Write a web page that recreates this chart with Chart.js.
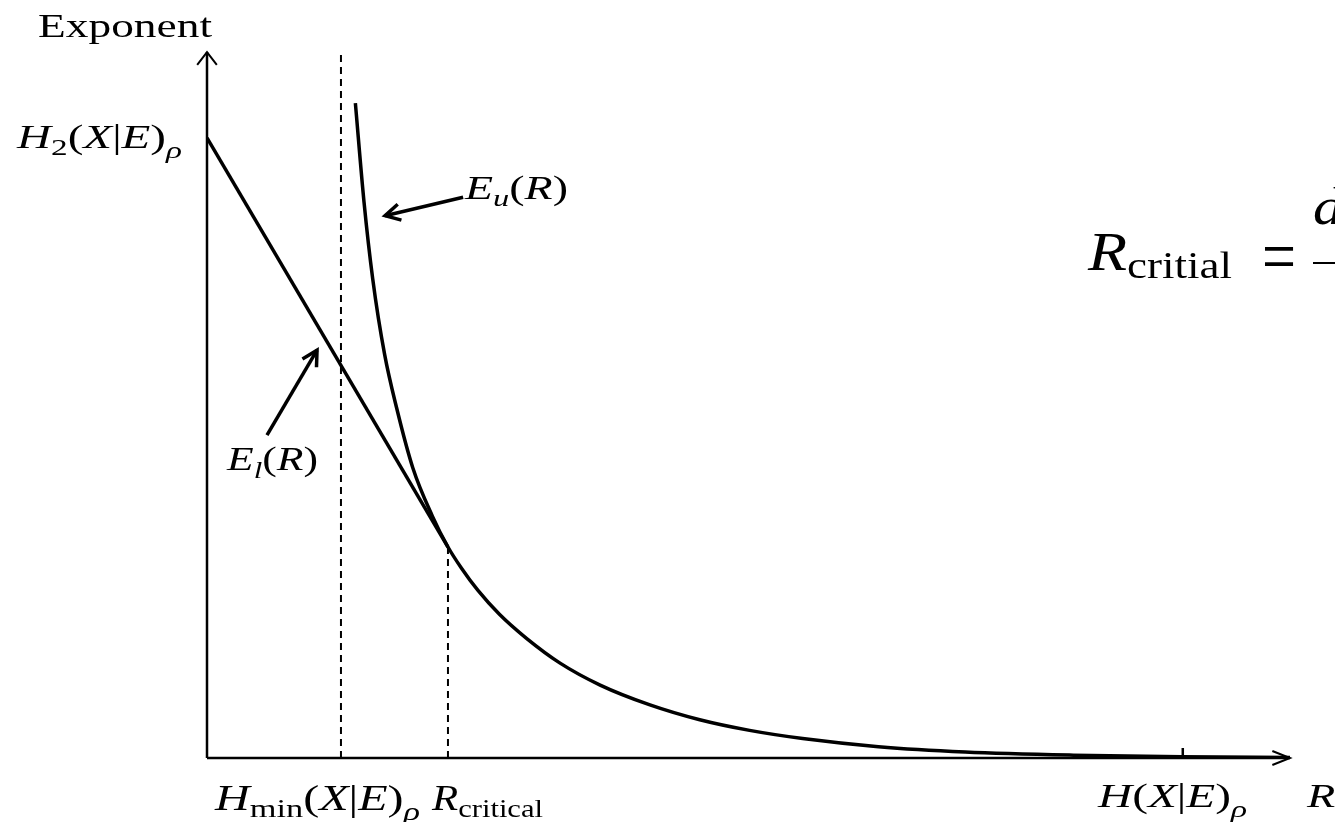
<!DOCTYPE html>
<html>
<head>
<meta charset="utf-8">
<script src="https://cdn.jsdelivr.net/npm/chart.js@4.4.1/dist/chart.umd.min.js"></script>
<style>
  html, body { margin: 0; padding: 0; background: #fff; }
  canvas { display: block; }
</style>
</head>
<body>
<canvas id="expChart" width="1335" height="822"></canvas>
<script>
// dados (unidades arbitrárias: R de 0 a 100, expoente de 0 a 100)
const upperRate = [13.7, 14.5, 15.3, 16.4, 17.5, 19.0, 20.8, 22.25, 23.5, 25.0, 27.0, 29.5, 32.6, 36.3, 40.9, 45.5, 50.1, 55.0, 62.0, 70.0, 80.0, 90.0, 100];
const upperExp  = [92.5, 78.5, 67.7, 57.0, 49.5, 41.0, 34.2, 29.8, 26.8, 23.7, 20.3, 16.9, 13.4, 10.3, 7.5, 5.4, 3.9, 2.75, 1.6, 0.85, 0.4, 0.18, 0.08];
const lowerRate = [0, 22.25];
const lowerExp  = [87.6, 29.8];
const hMinRate = 12.37;   // H_min(X|E)
const rCritical = 22.25;  // R_critical
const hRate = 90.1;       // H(X|E)
const dashTop = 99.3;

const SERIF = '"Liberation Serif", "Times New Roman", serif';

function pts(xs, ys) { return xs.map((x, i) => ({ x: x, y: ys[i] })); }

// texto "matemático" com partes itálicas e subscritos, esticado na horizontal
function drawRich(ctx, x, y, parts, size, width) {
    const fontFor = p => (p.i ? 'italic ' : '') + Math.round(size * (p.s ? 0.7 : 1)) + 'px ' + SERIF;
    let w = 0;
    parts.forEach(p => { ctx.font = fontFor(p); w += ctx.measureText(p.t).width; });
    const sx = width ? width / w : 1.36;
    ctx.save();
    ctx.translate(x, y);
    ctx.scale(sx, 1);
    ctx.fillStyle = '#000';
    ctx.textBaseline = 'alphabetic';
    let cx = 0;
    parts.forEach(p => {
        ctx.font = fontFor(p);
        const dy = p.dy !== undefined ? p.dy : (p.s ? size * 0.28 : 0);
        ctx.fillText(p.t, cx, dy);
        cx += ctx.measureText(p.t).width;
    });
    ctx.restore();
}

function chevron(ctx, tx, ty, ang, len, spread) {
    ctx.beginPath();
    ctx.moveTo(tx - len * Math.cos(ang - spread), ty - len * Math.sin(ang - spread));
    ctx.lineTo(tx, ty);
    ctx.lineTo(tx - len * Math.cos(ang + spread), ty - len * Math.sin(ang + spread));
    ctx.stroke();
}

const annotations = {
    id: 'annotations',
    afterDatasetsDraw(chart) {
        const ctx = chart.ctx;
        const xs = chart.scales.x, ys = chart.scales.y;
        const X = v => xs.getPixelForValue(v);
        const Y = v => ys.getPixelForValue(v);
        const ox = X(0), oy = Y(0);

        ctx.save();
        ctx.strokeStyle = '#000';
        ctx.lineCap = 'butt';

        // eixos com setas
        ctx.lineWidth = 2.5;
        ctx.beginPath();
        ctx.moveTo(ox, oy); ctx.lineTo(ox, Y(99.7));
        ctx.moveTo(ox, oy); ctx.lineTo(X(100), oy);
        ctx.stroke();
        ctx.lineWidth = 2;
        chevron(ctx, ox, Y(99.7), -Math.PI / 2, 16, 0.66);
        chevron(ctx, X(100), oy, 0, 19, 0.38);

        // marca em H(X|E)
        ctx.lineWidth = 2.5;
        ctx.beginPath();
        ctx.moveTo(X(hRate), oy); ctx.lineTo(X(hRate), oy - 10);
        ctx.stroke();

        // setas apontando para as curvas
        ctx.lineWidth = 3.5;
        const arrows = [
            [23.65, 79.2, 16.44, 76.6],
            [5.54, 45.6, 10.16, 57.6]
        ];
        arrows.forEach(a => {
            const x1 = X(a[0]), y1 = Y(a[1]), x2 = X(a[2]), y2 = Y(a[3]);
            ctx.beginPath(); ctx.moveTo(x1, y1); ctx.lineTo(x2, y2); ctx.stroke();
            chevron(ctx, x2, y2, Math.atan2(y2 - y1, x2 - x1), 17, 0.5);
        });

        // textos
        drawRich(ctx, 38, 37, [{ t: 'Exponent' }], 34, 174);
        drawRich(ctx, 17, 148, [{ t: 'H', i: 1 }, { t: '2', s: 1, dy: 7 }, { t: '(' }, { t: 'X', i: 1 }, { t: '|' }, { t: 'E', i: 1 }, { t: ')' }, { t: 'ρ', i: 1, s: 1 }], 34, 165);
        drawRich(ctx, 465, 199, [{ t: 'E', i: 1 }, { t: 'u', i: 1, s: 1, dy: 7 }, { t: '(' }, { t: 'R', i: 1 }, { t: ')' }], 34, 103);
        drawRich(ctx, 227, 470, [{ t: 'E', i: 1 }, { t: 'l', i: 1, s: 1, dy: 8 }, { t: '(' }, { t: 'R', i: 1 }, { t: ')' }], 34, 91);
        drawRich(ctx, 215, 810, [{ t: 'H', i: 1 }, { t: 'min', s: 1, dy: 7 }, { t: '(' }, { t: 'X', i: 1 }, { t: '|' }, { t: 'E', i: 1 }, { t: ')' }, { t: 'ρ', i: 1, s: 1 }], 35, 205);
        drawRich(ctx, 432, 810, [{ t: 'R', i: 1 }, { t: 'critical', s: 1, dy: 7 }], 35, 111);
        drawRich(ctx, 1098, 807, [{ t: 'H', i: 1 }, { t: '(' }, { t: 'X', i: 1 }, { t: '|' }, { t: 'E', i: 1 }, { t: ')' }, { t: 'ρ', i: 1, s: 1 }], 34, 149);
        drawRich(ctx, 1307, 807, [{ t: 'R', i: 1 }], 34);

        // fórmula à direita (cortada pela borda)
        drawRich(ctx, 1088, 270, [{ t: 'R', i: 1 }, { t: 'critial', s: 1, dy: 8 }], 54, 144);
        drawRich(ctx, 1262, 282, [{ t: '=' }], 76, 34);
        drawRich(ctx, 1313, 224, [{ t: 'd', i: 1 }], 52, 30);
        ctx.lineWidth = 2;
        ctx.beginPath(); ctx.moveTo(1313, 263); ctx.lineTo(1335, 263); ctx.stroke();

        ctx.restore();
    }
};

const line = (data, w, dash) => ({
    data: data,
    borderColor: '#000',
    borderWidth: w,
    borderDash: dash || [],
    pointRadius: 0,
    fill: false,
    tension: 0
});

const upper = line(pts(upperRate, upperExp), 3.5);
upper.cubicInterpolationMode = 'monotone';

new Chart(document.getElementById('expChart'), {
    type: 'line',
    data: {
        datasets: [
            upper,
            line(pts(lowerRate, lowerExp), 3.5),
            line([{ x: hMinRate, y: 0 }, { x: hMinRate, y: dashTop }], 2, [7, 5]),
            line([{ x: rCritical, y: 0 }, { x: rCritical, y: lowerExp[1] }], 2, [7, 5])
        ]
    },
    options: {
        responsive: false,
        animation: false,
        devicePixelRatio: 1,
        layout: { padding: { left: 207, right: 45, top: 50, bottom: 64 } },
        plugins: { legend: { display: false }, tooltip: { enabled: false } },
        scales: {
            x: { type: 'linear', min: 0, max: 100, display: false },
            y: { type: 'linear', min: 0, max: 100, display: false }
        }
    },
    plugins: [annotations]
});
</script>
</body>
</html>
